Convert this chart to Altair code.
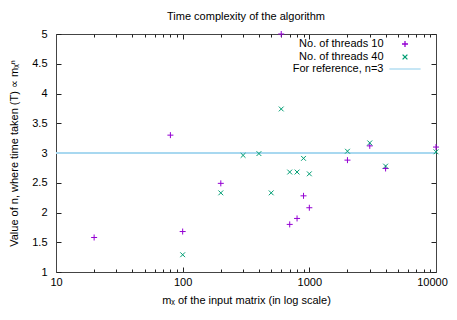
import altair as alt
import pandas as pd

series_names = ["No. of threads 10", "No. of threads 40", "For reference, n=3"]
series_colors = ["#9400d3", "#009e73", "#a8d8f0"]

mx_10 = [20, 80, 100, 200, 600, 700, 800, 900, 1000, 2000, 3000, 4000, 10000]
n_10 = [1.58, 3.30, 1.68, 2.49, 5.0, 1.80, 1.90, 2.28, 2.08, 2.88, 3.12, 2.74, 3.10]

mx_40 = [100, 200, 300, 400, 500, 600, 700, 800, 900, 1000, 2000, 3000, 4000, 10000]
n_40 = [1.29, 2.33, 2.96, 2.99, 2.33, 3.74, 2.68, 2.68, 2.91, 2.65, 3.03, 3.17, 2.78, 3.02]

ref_n = [3]

x_major = [10, 100, 1000, 10000]
x_minor = [20, 30, 40, 50, 60, 70, 80, 90,
           200, 300, 400, 500, 600, 700, 800, 900,
           2000, 3000, 4000, 5000, 6000, 7000, 8000, 9000]
y_ticks = [1, 1.5, 2, 2.5, 3, 3.5, 4, 4.5, 5]

df10 = pd.DataFrame({"mx": mx_10, "n": n_10, "series": series_names[0]})
df40 = pd.DataFrame({"mx": mx_40, "n": n_40, "series": series_names[1]})
dfref = pd.DataFrame({"n": ref_n, "series": [series_names[2]]})

FONT = "Liberation Sans"
PLUS = "M-0.5,0H0.5M0,-0.5V0.5"
CROSS = "M-0.4,-0.4L0.4,0.4M-0.4,0.4L0.4,-0.4"
LINE = "M-2.6,0H2.6"
SYM_SIZE = 144

x_scale = alt.Scale(type="log", domain=[10, 10000], nice=False)
y_scale = alt.Scale(domain=[1, 5], nice=False, zero=False)

legend = alt.Legend(
    title=None, orient="none", legendX=342, legendY=3,
    symbolSize=SYM_SIZE, symbolStrokeWidth=1.3, labelAlign="right",
    labelOffset={"expr": "-28.5"}, labelFont=FONT, labelFontSize=11, labelColor="#000",
    rowPadding={"expr": "-2"}, symbolFillColor="transparent",
)
color = alt.Color("series:N", scale=alt.Scale(domain=series_names, range=series_colors), legend=legend)
shape = alt.Shape("series:N", scale=alt.Scale(domain=series_names, range=[PLUS, CROSS, LINE]), legend=legend)

tick_common = dict(grid=False, tickColor="#222", tickWidth=1, domainColor="#444",
                   domainWidth=1, labelFlush=False, labelOverlap=False)

ax_bottom = alt.Axis(orient="bottom", values=x_major, format="d", domain=True,
                     tickSize={"expr": "-5"},
                     labelOffset={"condition": {"test": "datum.value >= 10000", "value": -4}, "value": 0},
                     labelPadding=9, labelFont=FONT, labelFontSize=11, labelColor="#000",
                     title="mₓ of the input matrix (in log scale)", titleFont=FONT,
                     titleFontSize=11, titleFontWeight="normal", titleColor="#000",
                     titlePadding=7, **tick_common)
ax_left = alt.Axis(orient="left", values=y_ticks, format="~g", domain=True,
                   tickSize={"expr": "-5"},
                   labelPadding=14, labelFont=FONT, labelFontSize=11, labelColor="#000",
                   title="Value of n, where time taken (T) ∝ mₓⁿ", titleFont=FONT,
                   titleFontSize=11, titleFontWeight="normal", titleColor="#000",
                   titlePadding=12, **tick_common)
ax_top = alt.Axis(orient="top", values=x_major, domain=True, tickSize={"expr": "-5"},
                  labels=False, title=None, **tick_common)
ax_right = alt.Axis(orient="right", values=y_ticks, domain=True, tickSize={"expr": "-5"},
                    labels=False, title=None, **tick_common)
ax_bottom_minor = alt.Axis(orient="bottom", values=x_minor, domain=False, tickSize={"expr": "-3"},
                           labels=False, title=None, **tick_common)
ax_top_minor = alt.Axis(orient="top", values=x_minor, domain=False, tickSize={"expr": "-3"},
                        labels=False, title=None, **tick_common)

pts10 = alt.Chart(df10).mark_point(filled=False, size=SYM_SIZE, strokeWidth=1, opacity=1).encode(
    x=alt.X("mx:Q", scale=x_scale, axis=ax_bottom),
    y=alt.Y("n:Q", scale=y_scale, axis=ax_left),
    color=color, shape=shape,
)
pts40 = alt.Chart(df40).mark_point(filled=False, size=SYM_SIZE, strokeWidth=1, opacity=1).encode(
    x=alt.X("mx:Q", scale=x_scale, axis=ax_top),
    y=alt.Y("n:Q", scale=y_scale, axis=ax_right),
    color=color, shape=shape,
)
ref = alt.Chart(dfref).mark_rule(strokeWidth=2).encode(
    y=alt.Y("n:Q", scale=y_scale, axis=None),
    color=color,
)
minor_b = alt.Chart(df10).mark_point(opacity=0).encode(
    x=alt.X("mx:Q", scale=x_scale, axis=ax_bottom_minor),
    y=alt.Y("n:Q", scale=y_scale, axis=None),
)
minor_t = alt.Chart(df10).mark_point(opacity=0).encode(
    x=alt.X("mx:Q", scale=x_scale, axis=ax_top_minor),
    y=alt.Y("n:Q", scale=y_scale, axis=None),
)

chart = alt.layer(ref, pts10, pts40, minor_b, minor_t).resolve_axis(
    x="independent", y="independent"
).properties(
    width=380, height=238,
    autosize=alt.AutoSizeParams(type="none"),
    padding={"left": 48, "top": 26, "right": 13, "bottom": 40},
    title=alt.TitleParams("Time complexity of the algorithm", font=FONT, fontSize=11,
                          fontWeight="normal", color="#000", anchor="middle", offset=6),
).configure_view(stroke=None)

chart.save("out.html", embed_options={"renderer": "svg", "actions": False})
